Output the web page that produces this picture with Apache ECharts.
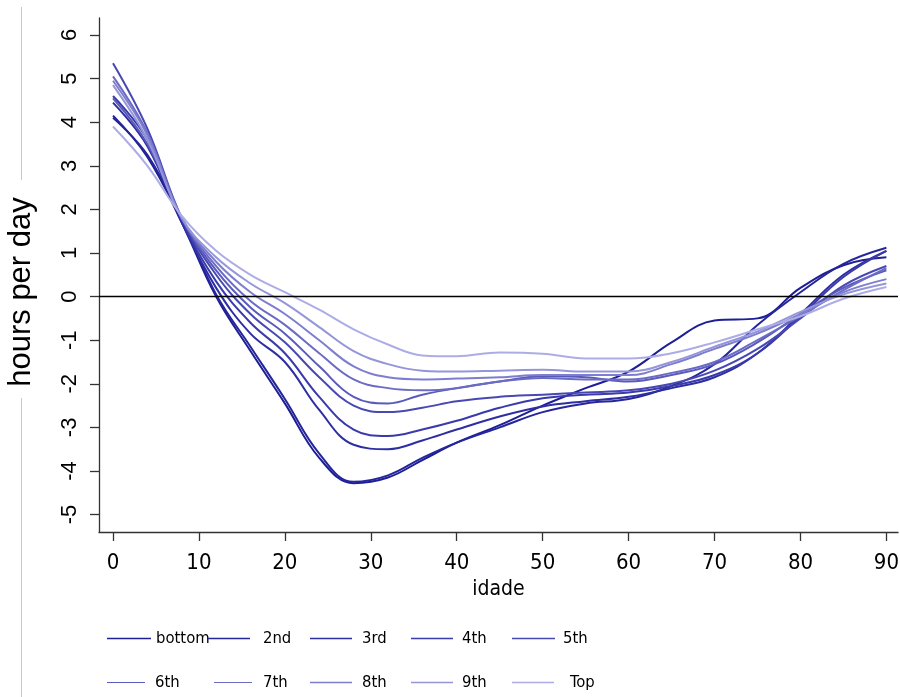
<!DOCTYPE html>
<html>
<head>
<meta charset="utf-8">
<script src="https://cdn.jsdelivr.net/npm/echarts@6/dist/echarts.min.js"></script>
<style>
html,body{margin:0;padding:0;background:#fff;}
#chart{width:900px;height:697px;}
</style>
</head>
<body>
<div id="chart"></div>
<script>
const ages = [0,4,8,12,16,20,24,28,32,36,40,45,50,55,60,65,70,75,80,85,90];
const seriesNames = ['bottom','2nd','3rd','4th','5th','6th','7th','8th','9th','Top'];
const vBottom = [4.15,3.2,1.7,0.0,-1.25,-2.45,-3.7,-4.28,-4.15,-3.75,-3.35,-2.95,-2.5,-2.1,-1.72,-1.05,-0.55,-0.5,0.2,0.72,0.9];
const v2nd    = [4.1,3.25,1.75,0.05,-1.15,-2.35,-3.6,-4.25,-4.1,-3.7,-3.35,-3.0,-2.65,-2.45,-2.35,-2.05,-1.55,-0.65,0.1,0.75,1.12];
const v3rd    = [4.45,3.45,1.7,0.2,-0.85,-1.5,-2.6,-3.4,-3.5,-3.3,-3.05,-2.75,-2.52,-2.4,-2.3,-2.1,-1.85,-1.3,-0.4,0.5,1.05];
const v4th    = [4.6,3.6,1.75,0.35,-0.6,-1.3,-2.3,-3.05,-3.2,-3.05,-2.85,-2.55,-2.33,-2.25,-2.2,-2.05,-1.8,-1.3,-0.45,0.45,1.05];
const v5th    = [5.35,3.85,1.8,0.5,-0.4,-1.05,-1.85,-2.5,-2.65,-2.55,-2.4,-2.3,-2.25,-2.2,-2.15,-2.0,-1.7,-1.2,-0.5,0.25,0.7];
const v6th    = [4.55,3.5,1.8,0.6,-0.25,-0.85,-1.6,-2.3,-2.45,-2.25,-2.1,-1.95,-1.83,-1.85,-1.95,-1.8,-1.55,-1.05,-0.4,0.2,0.6];
const v7th    = [5.05,3.75,1.8,0.7,-0.1,-0.65,-1.3,-1.9,-2.1,-2.15,-2.1,-1.95,-1.87,-1.9,-1.9,-1.75,-1.5,-1.0,-0.45,0.15,0.65];
const v8th    = [4.95,3.7,1.8,0.8,0.1,-0.4,-1.0,-1.6,-1.85,-1.9,-1.88,-1.85,-1.8,-1.8,-1.8,-1.55,-1.2,-0.85,-0.4,0.1,0.4];
const v9th    = [4.85,3.6,1.8,0.9,0.3,-0.15,-0.7,-1.25,-1.55,-1.7,-1.72,-1.7,-1.68,-1.72,-1.72,-1.5,-1.15,-0.8,-0.35,0.05,0.3];
const vTop    = [3.9,3.0,1.85,1.05,0.5,0.1,-0.3,-0.75,-1.1,-1.35,-1.37,-1.28,-1.31,-1.42,-1.42,-1.3,-1.05,-0.75,-0.45,-0.05,0.22];
const allValues = [vBottom,v2nd,v3rd,v4th,v5th,v6th,v7th,v8th,v9th,vTop];
const xTicks = [0,10,20,30,40,50,60,70,80,90];
const yTicks = [-5,-4,-3,-2,-1,0,1,2,3,4,5,6];
const colors = ['#1e1e96','#25259c','#2e2ea3','#3a3aab','#4848b3','#5a5abd','#6b6bc6','#7e7ed0','#9595da','#adade6'];

const condensed = "'DejaVu Sans Condensed','Liberation Sans Narrow','DejaVu Sans',sans-serif";
const chart = echarts.init(document.getElementById('chart'), null, {renderer:'canvas'});

const series = seriesNames.map((name, i) => {
  const s = {
    name: name,
    type: 'line',
    smooth: 0.4,
    symbol: 'none',
    data: ages.map((a, j) => [a, allValues[i][j]]),
    lineStyle: {color: colors[i], width: 2},
    itemStyle: {color: colors[i]},
    z: 3
  };
  if (i === 0) {
    s.markLine = {
      silent: true, symbol: 'none', label: {show:false},
      lineStyle: {color:'#000', width:1.3, type:'solid'},
      data: [{yAxis: 0}]
    };
  }
  return s;
});

const lineStarts = [107,208,310,411,512, 107,214,310,411,512];
const lineLens   = [44,42,42,42,43, 38,38,42,42,42];
const textStarts = [156,263,362,462,563, 155,263,362,462,570];
const rowY = [642,642,642,642,642,686,686,686,686,686];

const legends = seriesNames.map((name, i) => ({
  data: [name],
  left: lineStarts[i],
  top: rowY[i] - 12,
  padding: 0,
  itemWidth: lineLens[i],
  itemHeight: 24,
  itemGap: 0,
  icon: 'path://M0,10.4 L100,10.4 L100,13.6 L0,13.6 Z',
  itemStyle: {color: colors[i]},
  textStyle: {
    fontFamily: condensed, fontSize: 16.5, color: '#000',
    padding: [0,0,0, Math.max(0, textStarts[i] - lineStarts[i] - lineLens[i] - 5)]
  },
  selectedMode: false
}));

chart.setOption({
  animation: false,
  backgroundColor: '#fff',
  color: colors,
  grid: {left: 99, right: 2, top: 18, bottom: 165, containLabel: false, outerBoundsMode: 'none'},
  legend: legends,
  xAxis: {
    type: 'value', min: -1.63, max: 91.35,
    name: 'idade', nameLocation: 'middle', nameGap: 45,
    nameTextStyle: {fontFamily: condensed, fontSize: 21, color:'#000'},
    axisLine: {show:true, onZero:false, lineStyle:{color:'#333', width:1.3}},
    axisTick: {show:true, length: 9, customValues: xTicks, lineStyle:{color:'#333', width:1.3}},
    axisLabel: {customValues: xTicks, margin: 20, fontFamily: condensed, fontSize: 22, color:'#000'},
    splitLine: {show:false}
  },
  yAxis: {
    type: 'value', min: -5.4, max: 6.39,
    name: 'hours per day', nameLocation: 'middle', nameGap: 62, nameRotate: 90,
    nameTextStyle: {fontFamily: "'Liberation Sans',Arial,sans-serif", fontSize: 31, color:'#000', padding: [0, 34, 0, 0]},
    axisLine: {show:true, onZero:false, lineStyle:{color:'#333', width:1.3}},
    axisTick: {show:true, length: 9, customValues: yTicks, lineStyle:{color:'#333', width:1.3}},
    axisLabel: {customValues: yTicks, rotate: 90, margin: 18, fontFamily: "'Liberation Sans',Arial,sans-serif", fontSize: 22, color:'#000'},
    splitLine: {show:false}
  },
  graphic: [
    {type:'line', shape:{x1:21.5,y1:7,x2:21.5,y2:180}, style:{stroke:'#c8c8c8', lineWidth:1}, silent:true},
    {type:'line', shape:{x1:21.5,y1:398,x2:21.5,y2:697}, style:{stroke:'#c8c8c8', lineWidth:1}, silent:true}
  ],
  series: series
});
</script>
</body>
</html>
